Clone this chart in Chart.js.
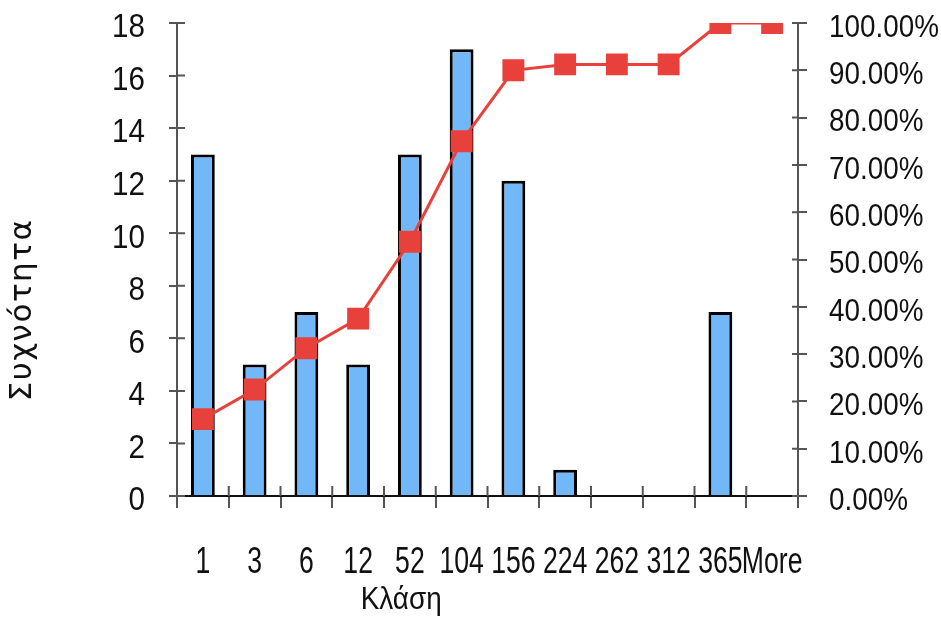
<!DOCTYPE html>
<html>
<head>
<meta charset="utf-8">
<script src="https://cdn.jsdelivr.net/npm/chart.js@4/dist/chart.umd.min.js"></script>
<style>
  html, body { margin: 0; padding: 0; background: #fff; overflow: hidden; }
</style>
</head>
<body>
<canvas id="c" width="941" height="618"></canvas>
<script>
// Histogram bins (class upper limits)
const classes = ['1', '3', '6', '12', '52', '104', '156', '224', '262', '312', '365', 'More'];
// Frequency per class
const frequency = [13, 5, 7, 5, 13, 17, 12, 1, 0, 0, 7, 0];
// Cumulative percentage per class
const cumulativePct = [16.25, 22.5, 31.25, 37.5, 53.75, 75, 90, 91.25, 91.25, 91.25, 100, 100];

const canvas = document.getElementById('c');
const ctx2d = canvas.getContext('2d');
const nativeFillText = CanvasRenderingContext2D.prototype.fillText;

// Condensed lettering: labels below the plot are squeezed harder than the axis values
const X_LABEL_SQUEEZE = 0.72;
const Y_LABEL_SQUEEZE = 0.87;
ctx2d.fillText = function (text, x, y, maxWidth) {
  const w = this.measureText(text).width;
  const absY = this.getTransform().f + y;
  const f = absY > 520 ? X_LABEL_SQUEEZE : Y_LABEL_SQUEEZE;
  const limit = Math.min(maxWidth === undefined ? Infinity : maxWidth, w * f);
  return nativeFillText.call(this, text, x, y, limit);
};

const family = "'Liberation Sans', Arial, sans-serif";
const axisColor = '#555';
const red = '#E8413C';

// Fixed axis widths; the end labels may overhang the plot without shrinking it
function fixWidth(w) {
  return s => { s.width = w; s.paddingTop = 0; s.paddingBottom = 0; };
}

// Short tick marks on the inner side of each axis, so ticks cross the axis line
const crossTicks = {
  id: 'crossTicks',
  afterDatasetsDraw(chart) {
    const ctx = chart.ctx;
    const a = chart.chartArea;
    const y = chart.scales.y, y2 = chart.scales.y2, x = chart.scales.x;
    ctx.save();
    ctx.strokeStyle = axisColor;
    ctx.lineWidth = 2;
    ctx.beginPath();
    y.ticks.forEach(t => { const p = y.getPixelForValue(t.value); ctx.moveTo(a.left, p); ctx.lineTo(a.left + 8, p); });
    y2.ticks.forEach(t => { const p = y2.getPixelForValue(t.value); ctx.moveTo(a.right, p); ctx.lineTo(a.right - 6, p); });
    for (let i = 0; i <= classes.length; i++) {
      const p = x.getPixelForValue(i - 0.5);
      ctx.moveTo(p, a.bottom); ctx.lineTo(p, a.bottom - 10);
    }
    ctx.stroke();
    ctx.restore();
  }
};

// Axis titles
const axisTitles = {
  id: 'axisTitles',
  afterDraw(chart) {
    const ctx = chart.ctx;
    const a = chart.chartArea;
    ctx.save();
    ctx.fillStyle = '#111';
    ctx.textAlign = 'center';
    ctx.textBaseline = 'middle';
    ctx.font = `32px ${family}`;
    nativeFillText.call(ctx, 'Κλάση', a.left + (a.right - a.left) * 0.361, 600, 81);
    ctx.restore();

    ctx.save();
    ctx.fillStyle = '#111';
    ctx.textAlign = 'center';
    ctx.textBaseline = 'middle';
    ctx.translate(23, 310);
    ctx.rotate(-Math.PI / 2);
    ctx.font = "31px 'DejaVu Sans', sans-serif";
    ctx.letterSpacing = '1.5px';
    nativeFillText.call(ctx, 'Συχνότητα', 0, 0);
    ctx.restore();
  }
};

new Chart(canvas, {
  data: {
    labels: classes,
    datasets: [
      {
        type: 'line',
        label: 'Cumulative %',
        data: cumulativePct,
        yAxisID: 'y2',
        borderColor: red,
        backgroundColor: red,
        borderWidth: 3,
        pointStyle: 'rect',
        pointRadius: 15.5,
        pointBorderWidth: 0,
        pointBackgroundColor: red,
        tension: 0,
        order: 0
      },
      {
        type: 'bar',
        label: 'Frequency',
        data: frequency,
        yAxisID: 'y',
        backgroundColor: '#72B8F9',
        borderColor: '#000',
        borderWidth: 3,
        borderSkipped: 'bottom',
        categoryPercentage: 1,
        barPercentage: 0.46,
        order: 1
      }
    ]
  },
  options: {
    responsive: false,
    animation: false,
    devicePixelRatio: 1,
    layout: { autoPadding: false, padding: { top: 23, left: 0, right: 0, bottom: 0 } },
    plugins: { legend: { display: false }, tooltip: { enabled: false } },
    scales: {
      x: {
        offset: true,
        grid: { offset: true, drawOnChartArea: false, drawTicks: true, tickLength: 12, color: axisColor, lineWidth: 2 },
        border: { display: true, color: '#111', width: 2 },
        ticks: { font: { family, size: 37 }, color: '#111', padding: 33, maxRotation: 0, autoSkip: false },
        afterFit(s) { s.height = 122; s.paddingLeft = 0; s.paddingRight = 0; }
      },
      y: {
        position: 'left',
        min: 0, max: 18,
        ticks: { stepSize: 2, font: { family, size: 34 }, color: '#111', padding: 24, labelOffset: 5 },
        grid: { drawOnChartArea: false, drawTicks: true, tickLength: 8, color: axisColor, lineWidth: 2 },
        border: { display: true, color: axisColor, width: 2 },
        afterFit: fixWidth(177)
      },
      y2: {
        position: 'right',
        min: 0, max: 100,
        ticks: { stepSize: 10, font: { family, size: 32 }, color: '#111', padding: 22, labelOffset: 5, callback: v => v.toFixed(2) + '%' },
        grid: { drawOnChartArea: false, drawTicks: true, tickLength: 9, color: axisColor, lineWidth: 2 },
        border: { display: true, color: axisColor, width: 2 },
        afterFit: fixWidth(143)
      }
    }
  },
  plugins: [crossTicks, axisTitles]
});
</script>
</body>
</html>
